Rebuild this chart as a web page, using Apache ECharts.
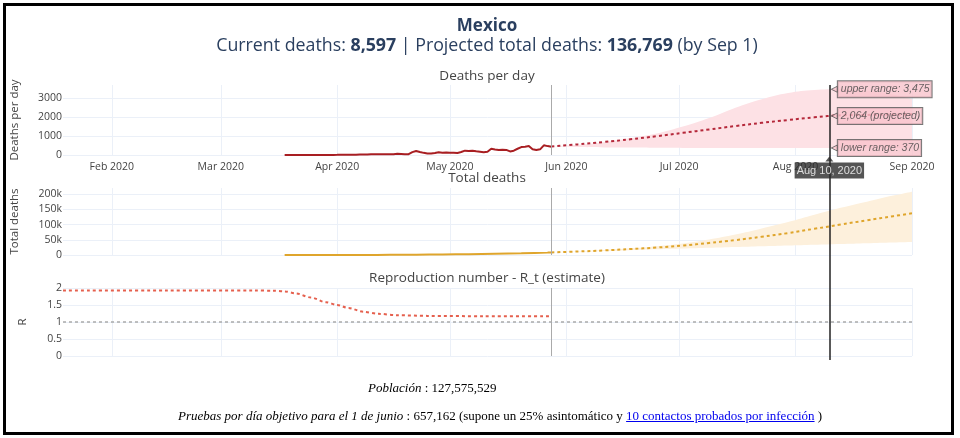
<!DOCTYPE html>
<html><head><meta charset="utf-8">
<script src="https://cdn.jsdelivr.net/npm/echarts@6/dist/echarts.min.js"></script>
<style>
html,body{margin:0;padding:0;background:#fff;}
#chart{position:absolute;left:0;top:0;width:960px;height:438px;}
#frame{position:absolute;left:3px;top:3px;width:951px;height:432px;border:3px solid #000;box-sizing:border-box;pointer-events:none;}
.foot{position:absolute;font-family:"Liberation Serif","Times New Roman",serif;font-size:13px;color:#000;white-space:nowrap;line-height:16px;}
.foot i{font-style:italic}
.foot a{color:#0000ee;text-decoration:underline}
</style></head><body>
<div id="chart"></div>
<div class="foot" style="left:368px;top:380px;"><i>Población</i> : 127,575,529</div>
<div class="foot" style="left:178px;top:408px;"><i>Pruebas por día objetivo para el 1 de junio</i> : 657,162 (supone un 25% asintomático y <a href="#">10 contactos probados por infección</a> )</div>
<div id="frame"></div>
<script>
// ---------------- data ----------------
const months = ['Jan','Feb','Mar','Apr','May','Jun','Jul','Aug','Sep','Oct','Nov','Dec'];
const xRange = ['2020-01-19', '2020-09-01'];
const currentDate = '2020-05-28';
const hoverDate = '2020-08-10';

// observed deaths per day, one value per day starting at actualStart
const actualStart = '2020-03-18';
const dailyActual = [1,0,0,1,1,1,1,2,2,3,4,4,4,5,
  8,13,10,19,15,15,31,33,22,39,40,38,36,41,43,37,60,50,39,45,150,210,160,113,85,80,103,140,124,127,
  120,125,110,160,230,210,230,200,175,150,170,330,290,260,280,270,190,230,330,420,440,470,300,260,300,510,470,440];

// observed total deaths
const totalDates = ['2020-03-18','2020-03-25','2020-04-01','2020-04-08','2020-04-15','2020-04-22','2020-04-29','2020-05-06','2020-05-13','2020-05-20','2020-05-27','2020-05-28'];
const totalActual = [1, 8, 37, 174, 449, 970, 1732, 2704, 4220, 5666, 8134, 8597];

// projections
const projDates = ['2020-05-28','2020-06-04','2020-06-11','2020-06-18','2020-06-25','2020-07-02','2020-07-09','2020-07-16','2020-07-23','2020-07-30','2020-08-06','2020-08-13','2020-08-20','2020-08-27','2020-09-01'];
const projDaily  = [447, 560, 690, 830, 990, 1170, 1350, 1530, 1700, 1850, 1990, 2100, 2120, 2140, 2150];
const dailyLower = [447, 420, 400, 390, 380, 375, 372, 370, 370, 370, 370, 370, 365, 355, 345];
const dailyUpper = [447, 540, 680, 880, 1130, 1500, 1950, 2500, 2950, 3280, 3440, 3470, 3390, 3200, 2950];
const projTotal  = [8597, 11500, 15000, 19500, 24500, 31000, 39500, 49000, 60000, 72000, 86000, 100000, 114000, 127500, 136769];
const totalLower = [8597, 11000, 13500, 16000, 18500, 21000, 23500, 26000, 28500, 31000, 33500, 36000, 38500, 41000, 42500];
const totalUpper = [8597, 12000, 16500, 22000, 29000, 38000, 51000, 67000, 87000, 108000, 132000, 155000, 175000, 195000, 208000];

// reproduction number
const rDates = ['2020-01-19','2020-02-15','2020-03-10','2020-03-15','2020-03-18','2020-03-21','2020-03-25','2020-03-29','2020-04-01','2020-04-04','2020-04-08','2020-04-12','2020-04-17','2020-04-25','2020-05-10','2020-05-28'];
const rValues = [1.93,1.93,1.93,1.92,1.90,1.84,1.72,1.58,1.50,1.41,1.30,1.24,1.20,1.18,1.17,1.17];

// hover read-out at hoverDate
const hoverUpper = 3475, hoverProj = 2064, hoverLower = 370;

// ---------------- build ----------------
const DAY = 864e5;
const t = s => Date.parse(s + 'T00:00:00Z');
const X_MIN = t(xRange[0]), X_MAX = t(xRange[1]);
const fmt = v => v.toLocaleString('en-US');
const pairs = (d, v) => d.map((s, i) => [t(s), v[i]]);
const dailyPairs = dailyActual.map((v, i) => [t(actualStart) + i * DAY, v]);
const diff = (a, b) => a.map((v, i) => v - b[i]);

const FONT = 'Open Sans';
const tickStyle = {color:'#444', fontSize:10.5, fontFamily:FONT};
const gridColor = '#ebf0f8';
const L = 63, R = 48;
const CX = 482; // horizontal centre of the plot area minus title padding

function xAx(i, labels) {
  return {type:'time', gridIndex:i, min:X_MIN, max:X_MAX,
    minInterval:28*DAY, maxInterval:31*DAY,
    axisLine:{show:false}, axisTick:{show:false},
    axisLabel:Object.assign({show:labels, margin:7, showMinLabel:false, showMaxLabel:true,
      formatter: v => { const d = new Date(v); return months[d.getUTCMonth()] + ' ' + d.getUTCFullYear(); }}, tickStyle),
    splitLine:{show:i<3, showMinLine:false, lineStyle:{color:gridColor, width:1}}};
}
function yAx(i, min, max, interval, name, gap, fmtFn, showMax) {
  return {type:'value', gridIndex:i, min, max, interval,
    axisLine:{show:false}, axisTick:{show:false},
    axisLabel:Object.assign({margin:1, showMaxLabel:showMax, formatter:fmtFn}, tickStyle),
    splitLine:{showMaxLine:showMax, lineStyle:{color:gridColor, width:1}},
    name, nameLocation:'middle', nameGap:gap, nameRotate:90,
    nameTextStyle:{color:'#444', fontSize:11.5, fontFamily:FONT}};
}
const vLine = {symbol:'none', silent:true, label:{show:false}, lineStyle:{color:'#aaa', width:1, type:'solid'}, data:[{xAxis:t(currentDate)}]};
const titleFont = {fontFamily:FONT, fontSize:13.5, color:'#444', fontWeight:'normal'};

const option = {
  animation:false, useUTC:true, backgroundColor:'#fff',
  title:[
    {text:'Mexico', left:CX, textAlign:'center', top:13, textStyle:{fontFamily:FONT, fontSize:17, fontWeight:'bold', color:'#2a3f5f'}},
    {text:'{n|Current deaths: }{b|' + fmt(totalActual[totalActual.length-1]) + '}{n| | Projected total deaths: }{b|' + fmt(projTotal[projTotal.length-1]) + '}{n| (by Sep 1)}',
      left:CX, textAlign:'center', top:32,
      textStyle:{fontWeight:'normal', rich:{n:{fontFamily:FONT, fontSize:17.8, fontWeight:'normal', color:'#2a3f5f'}, b:{fontFamily:FONT, fontSize:17.8, fontWeight:'bold', color:'#2a3f5f'}}}},
    {text:'Deaths per day', left:CX, textAlign:'center', top:64, textStyle:titleFont},
    {text:'Total deaths', left:CX, textAlign:'center', top:166, textStyle:titleFont},
    {text:'Reproduction number - R_t (estimate)', left:CX, textAlign:'center', top:266, textStyle:titleFont}
  ],
  grid:[
    {left:L, right:R, top:85, height:70},
    {left:L, right:R, top:188, height:67},
    {left:L, right:R, top:288, height:68},
    {left:L, right:R, top:85, height:275}
  ],
  xAxis:[xAx(0,true), xAx(1,false), xAx(2,false),
    {type:'time', gridIndex:3, min:X_MIN, max:X_MAX, show:false}],
  yAxis:[
    yAx(0, 0, 3700, 1000, 'Deaths per day', 42, v => String(v), false),
    yAx(1, 0, 220000, 50000, 'Total deaths', 42, v => v === 0 ? '0' : (v/1000) + 'k', false),
    yAx(2, 0, 2, 0.5, 'R', 34, v => String(v), true),
    {type:'value', gridIndex:3, min:0, max:1, show:false}
  ],
  series:[
    // --- deaths per day ---
    {type:'line', xAxisIndex:0, yAxisIndex:0, stack:'dband', data:pairs(projDates, dailyLower), symbol:'none', smooth:0.4, lineStyle:{opacity:0}, silent:true},
    {type:'line', xAxisIndex:0, yAxisIndex:0, stack:'dband', data:pairs(projDates, diff(dailyUpper, dailyLower)), symbol:'none', smooth:0.4, lineStyle:{opacity:0}, areaStyle:{color:'#fde1e5', opacity:1}, silent:true},
    {type:'line', xAxisIndex:0, yAxisIndex:0, data:dailyPairs, symbol:'none', clip:false, lineStyle:{color:'#a81e22', width:2}},
    {type:'line', xAxisIndex:0, yAxisIndex:0, data:pairs(projDates, projDaily), symbol:'none', smooth:0.4, lineStyle:{color:'#b5283a', width:2, type:[3,3]}, markLine:vLine},
    {type:'scatter', xAxisIndex:0, yAxisIndex:0, symbol:'triangle', symbolSize:[6,6], symbolRotate:90, symbolOffset:[5,0], itemStyle:{color:'#f9c3cc', borderColor:'#555', borderWidth:1}, z:10,
      data:[[t(hoverDate), hoverUpper, 'upper range: ' + fmt(hoverUpper)], [t(hoverDate), hoverProj, fmt(hoverProj) + ' (projected)'], [t(hoverDate), hoverLower, 'lower range: ' + fmt(hoverLower)]],
      label:{show:true, position:'right', distance:0, formatter:p => p.data[2], backgroundColor:'#f9c3cc', borderColor:'#555', borderWidth:1, padding:[3,2,2,3],
        color:'#444', fontStyle:'italic', fontSize:10.5, fontFamily:'Liberation Sans'}},
    {type:'scatter', xAxisIndex:0, yAxisIndex:0, symbol:'triangle', symbolSize:[8,5], symbolOffset:[0,4], itemStyle:{color:'#2b2b2b'}, z:10, clip:false,
      data:[[t(hoverDate), 0]],
      label:{show:true, position:'bottom', distance:1, formatter:p => { const d = new Date(p.value[0]); return months[d.getUTCMonth()] + ' ' + d.getUTCDate() + ', ' + d.getUTCFullYear(); },
        backgroundColor:'#2b2b2b', color:'#fff', padding:[3,2,2,2], fontSize:11, fontFamily:'Liberation Sans'}},
    // --- total deaths ---
    {type:'line', xAxisIndex:1, yAxisIndex:1, stack:'tband', data:pairs(projDates, totalLower), symbol:'none', smooth:0.4, lineStyle:{opacity:0}, silent:true},
    {type:'line', xAxisIndex:1, yAxisIndex:1, stack:'tband', data:pairs(projDates, diff(totalUpper, totalLower)), symbol:'none', smooth:0.4, lineStyle:{opacity:0}, areaStyle:{color:'#fdf0dc', opacity:1}, silent:true},
    {type:'line', xAxisIndex:1, yAxisIndex:1, data:pairs(totalDates, totalActual), symbol:'none', clip:false, smooth:0.3, lineStyle:{color:'#dfa52c', width:2}},
    {type:'line', xAxisIndex:1, yAxisIndex:1, data:pairs(projDates, projTotal), symbol:'none', smooth:0.4, lineStyle:{color:'#dfa52c', width:2, type:[3,3]}, markLine:vLine},
    // --- R ---
    {type:'line', xAxisIndex:2, yAxisIndex:2, data:pairs(rDates, rValues), symbol:'none', smooth:0.3, smoothMonotone:'x', clip:false,
      lineStyle:{color:'#e5604e', width:2, type:[3,3]},
      markLine:{symbol:'none', silent:true, label:{show:false}, data:[{yAxis:1, lineStyle:{color:'#aaa', width:1.5, type:[3,3]}}, {xAxis:t(currentDate), lineStyle:{color:'#aaa', width:1, type:'solid'}}]}},
    // --- hover line across panels ---
    {type:'line', xAxisIndex:3, yAxisIndex:3, data:[[X_MIN, 0]], symbol:'none', lineStyle:{opacity:0}, silent:true,
      markLine:{symbol:'none', silent:true, label:{show:false}, lineStyle:{color:'#222', width:1.5, type:'solid'}, data:[{xAxis:t(hoverDate)}]}}
  ]
};
const chart = echarts.init(document.getElementById('chart'), null, {renderer:'canvas'});
chart.setOption(option);
</script>
</body></html>
